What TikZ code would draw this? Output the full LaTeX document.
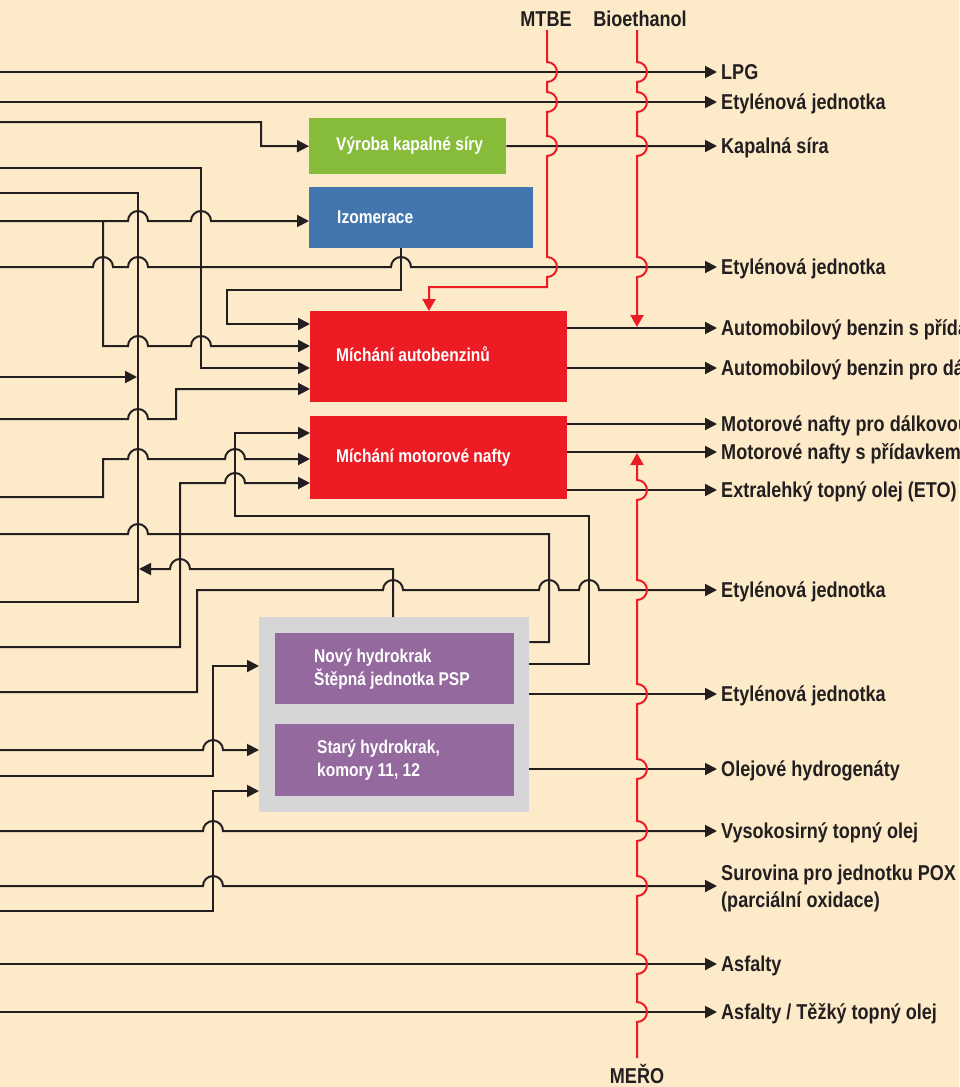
\documentclass[tikz,border=0pt]{standalone}
\usepackage{fontspec}
\setmainfont{Liberation Sans}[FakeStretch=0.84]
\usetikzlibrary{arrows.meta}
\definecolor{bgc}{RGB}{253,234,201}
\definecolor{linec}{RGB}{35,31,32}
\definecolor{redc}{RGB}{237,28,36}
\definecolor{greenc}{RGB}{135,188,59}
\definecolor{bluec}{RGB}{67,117,174}
\definecolor{purplec}{RGB}{148,105,158}
\definecolor{grayc}{RGB}{214,214,216}
\newcommand{\hopR}[2]{-- (#1-10,#2) arc[start angle=180,end angle=0,radius=10pt]}
\newcommand{\hopL}[2]{-- (#1+10,#2) arc[start angle=0,end angle=180,radius=10pt]}
\newcommand{\bumpD}[2]{-- (#1,#2-10) arc[start angle=90,end angle=-90,radius=10pt]}
\newcommand{\bumpU}[2]{-- (#1,#2+10) arc[start angle=-90,end angle=90,radius=10pt]}
\tikzset{
  blackline/.style={draw=linec, line width=2pt},
  redline/.style={draw=redc, line width=2pt},
  arrowtip/.style={-{Triangle[length=12pt,width=12pt]}},
  redtip/.style={-{Triangle[length=12pt,width=13pt]}},
  outlab/.style={anchor=west, inner xsep=4pt, inner ysep=0pt, text height=15.4pt, text depth=0pt,
    font=\fontsize{21.5}{26}\selectfont\bfseries, text=linec},
  plainlab/.style={inner sep=0pt, font=\fontsize{21.5}{26}\selectfont\bfseries, text=linec},
  blockbox/.style={anchor=north west, inner sep=0pt},
  blocktext/.style={anchor=west, inner sep=0pt, text=white, align=left,
    font=\fontsize{18.5}{23}\selectfont\bfseries},
}
\begin{document}
\begin{tikzpicture}[x=1pt,y=-1pt]
\fill[bgc] (0,0) rectangle (959,1087);
\useasboundingbox (0,0) rectangle (959,1087);

% ---- blocks
\node[blockbox, fill=greenc, minimum width=197pt, minimum height=56pt] (vy) at (309,118) {};
\node[blockbox, fill=bluec, minimum width=224pt, minimum height=61pt] (izo) at (309,187) {};
\node[blockbox, fill=redc, minimum width=257pt, minimum height=91pt] (mab) at (310,311) {};
\node[blockbox, fill=redc, minimum width=257pt, minimum height=83pt] (mmn) at (310,416) {};
\node[blockbox, fill=grayc, minimum width=270pt, minimum height=195pt] (hk) at (259,617) {};
\node[blockbox, fill=purplec, minimum width=239pt, minimum height=71pt] (nh) at (275,633) {};
\node[blockbox, fill=purplec, minimum width=239pt, minimum height=72pt] (sh) at (275,724) {};

\node[blocktext, xshift=27pt, yshift=1pt] (tvy) at (vy.west) {Výroba kapalné síry};
\node[blocktext, xshift=28pt] (tizo) at (izo.west) {Izomerace};
\node[blocktext, xshift=26pt, yshift=3pt] (tmab) at (mab.west) {Míchání autobenzinů};
\node[blocktext, xshift=26pt] (tmmn) at (mmn.west) {Míchání motorové nafty};
\node[blocktext, xshift=39pt] (tnh) at (nh.west) {Nový hydrokrak\\Štěpná jednotka PSP};
\node[blocktext, xshift=42pt] (tsh) at (sh.west) {Starý hydrokrak,\\komory 11, 12};

% ---- output labels
\node[outlab] (lLPG) at (717,72) {LPG};
\node[outlab] (lEt1) at (717,102) {Etylénová jednotka};
\node[outlab] (lKS) at (717,146) {Kapalná síra};
\node[outlab] (lEt2) at (717,267) {Etylénová jednotka};
\node[outlab] (lAB1) at (717,328) {Automobilový benzin s přídavkem};
\node[outlab] (lAB2) at (717,368) {Automobilový benzin pro dálkovou};
\node[outlab] (lMN1) at (717,424) {Motorové nafty pro dálkovou};
\node[outlab] (lMN2) at (717,452) {Motorové nafty s přídavkem};
\node[outlab] (lETO) at (717,490) {Extralehký topný olej (ETO)};
\node[outlab] (lEt3) at (717,590) {Etylénová jednotka};
\node[outlab] (lEt4) at (717,694) {Etylénová jednotka};
\node[outlab] (lOH) at (717,769) {Olejové hydrogenáty};
\node[outlab] (lVys) at (717,831) {Vysokosirný topný olej};
\node[plainlab, anchor=base west] (lPOXa) at (721,880) {Surovina pro jednotku POX};
\node[plainlab, anchor=base west] (lPOXb) at (721,907) {(parciální oxidace)};
\node[outlab] (lAs) at (717,964) {Asfalty};
\node[outlab] (lAs2) at (717,1012) {Asfalty / Těžký topný olej};

\node[plainlab, anchor=base] (mtbe) at (546,26) {MTBE};
\node[plainlab, anchor=base] (bio) at (640,26) {Bioethanol};
\node[plainlab, anchor=base] (mero) at (637,1083) {MEŘO};

% ---- free ends
\coordinate (s72) at (0,72);
\coordinate (s102) at (0,102);
\coordinate (s122) at (0,122);
\coordinate (s168) at (0,168);
\coordinate (s193) at (0,193);
\coordinate (s221) at (0,221);
\coordinate (s267) at (0,267);
\coordinate (s377) at (0,377);
\coordinate (s419) at (0,419);
\coordinate (s497) at (0,497);
\coordinate (s534) at (0,534);
\coordinate (s602) at (0,602);
\coordinate (s647) at (0,647);
\coordinate (s692) at (0,692);
\coordinate (s750) at (0,750);
\coordinate (s776) at (0,776);
\coordinate (s831) at (0,831);
\coordinate (s886) at (0,886);
\coordinate (s911) at (0,911);
\coordinate (s964) at (0,964);
\coordinate (s1012) at (0,1012);
\coordinate (b377) at (137,377);
\coordinate (b569) at (139,569);
\coordinate (tPOX) at (717,886);
\coordinate (mtbeS) at (547,30);
\coordinate (bioS) at (637,30);
\coordinate (bioE) at (637,327);
\coordinate (meroS) at (637,1058);
\coordinate (meroE) at (637,453);

% ---- black connectors
\draw[blackline, arrowtip] (s72) -- (lLPG.west);
\draw[blackline, arrowtip] (s102) -- (lEt1.west);
\draw[blackline, arrowtip] (s122) -- (261,122) -- (261,146) -- (vy.west);
\draw[blackline, arrowtip] (vy.east) -- (lKS.west);
\draw[blackline, arrowtip] (s168) -- (201,168) -- (201,368) -- (mab.west |- 0,368);
\draw[blackline] (s193) -- (138,193) -- (138,602) -- (s602);
\draw[blackline, arrowtip] (s221) \hopR{138}{221} \hopR{201}{221} -- (izo.west |- 0,221);
\draw[blackline, arrowtip] (103,221) -- (103,346) \hopR{138}{346} \hopR{201}{346} -- (mab.west |- 0,346);
\draw[blackline, arrowtip] (s267) \hopR{103}{267} \hopR{138}{267} \hopR{401}{267} -- (lEt2.west);
\draw[blackline, arrowtip] (izo.south -| 401,0) -- (401,290) -- (227,290) -- (227,324) -- (mab.west |- 0,324);
\draw[blackline, arrowtip] (s377) -- (b377);
\draw[blackline, arrowtip] (s419) \hopR{138}{419} -- (176,419) -- (176,389) -- (mab.west |- 0,389);
\draw[blackline, arrowtip] (mab.east |- 0,328) -- (lAB1.west);
\draw[blackline, arrowtip] (mab.east |- 0,368) -- (lAB2.west);
\draw[blackline, arrowtip] (hk.east |- 0,664) -- (589,664) -- (589,516) -- (235,516) -- (235,433) -- (mmn.west |- 0,433);
\draw[blackline, arrowtip] (s497) -- (103,497) -- (103,459) \hopR{138}{459} \hopR{235}{459} -- (mmn.west |- 0,459);
\draw[blackline, arrowtip] (s647) -- (180,647) -- (180,483) \hopR{235}{483} -- (mmn.west |- 0,483);
\draw[blackline, arrowtip] (mmn.east |- 0,424) -- (lMN1.west);
\draw[blackline, arrowtip] (mmn.east |- 0,452) -- (lMN2.west);
\draw[blackline, arrowtip] (mmn.east |- 0,490) -- (lETO.west);
\draw[blackline] (hk.east |- 0,642) -- (549,642) -- (549,534) \hopL{138}{534} -- (s534);
\draw[blackline, arrowtip] (hk.north -| 393,0) -- (393,569) \hopL{180}{569} -- (b569);
\draw[blackline, arrowtip] (s692) -- (197,692) -- (197,590) \hopR{393}{590} \hopR{549}{590} \hopR{589}{590} -- (lEt3.west);
\draw[blackline, arrowtip] (hk.east |- 0,694) -- (lEt4.west);
\draw[blackline, arrowtip] (hk.east |- 0,769) -- (lOH.west);
\draw[blackline, arrowtip] (s776) -- (213,776) -- (213,666) -- (hk.west |- 0,666);
\draw[blackline, arrowtip] (s750) \hopR{213}{750} -- (hk.west |- 0,750);
\draw[blackline, arrowtip] (s911) -- (213,911) -- (213,791) -- (hk.west |- 0,791);
\draw[blackline, arrowtip] (s831) \hopR{213}{831} -- (lVys.west);
\draw[blackline, arrowtip] (s886) \hopR{213}{886} -- (tPOX);
\draw[blackline, arrowtip] (s964) -- (lAs.west);
\draw[blackline, arrowtip] (s1012) -- (lAs2.west);

% ---- red connectors
\draw[redline, redtip] (mtbeS) \bumpD{547}{72} \bumpD{547}{102} \bumpD{547}{146} \bumpD{547}{267}
  -- (547,287) -- (429,287) -- (mab.north -| 429,0);
\draw[redline, redtip] (bioS) \bumpD{637}{72} \bumpD{637}{102} \bumpD{637}{146} \bumpD{637}{267} -- (bioE);
\draw[redline, redtip] (meroS) \bumpU{637}{1012} \bumpU{637}{964} \bumpU{637}{886} \bumpU{637}{831}
  \bumpU{637}{769} \bumpU{637}{694} \bumpU{637}{590} \bumpU{637}{490} -- (meroE);
\end{tikzpicture}
\end{document}
